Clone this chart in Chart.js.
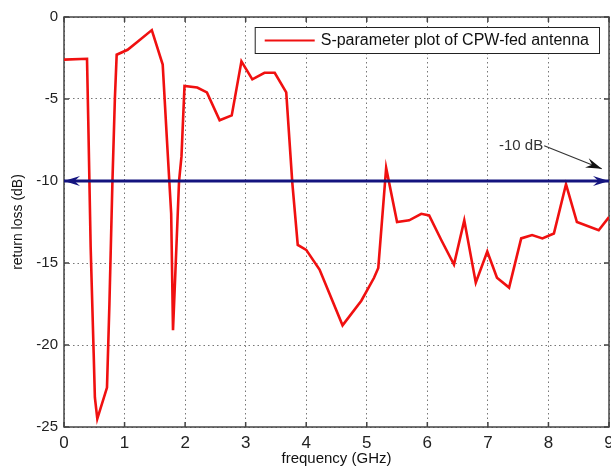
<!DOCTYPE html>
<html>
<head>
<meta charset="utf-8">
<script src="https://cdn.jsdelivr.net/npm/chart.js@4.4.0/dist/chart.umd.min.js"></script>
<style>
  html, body { margin: 0; padding: 0; background: #fff; }
</style>
</head>
<body>
<canvas id="chart" width="611" height="467"></canvas>
<script>
'use strict';

const freqGHz = [0, 0.38, 0.40, 0.44, 0.49, 0.51, 0.55, 0.71, 0.75, 0.80, 0.84, 0.87,
  1.05, 1.22, 1.45, 1.63, 1.70, 1.77, 1.80, 1.84, 1.90, 1.94, 1.99,
  2.20, 2.36, 2.57, 2.77, 2.93, 3.11, 3.31, 3.48, 3.67, 3.77, 3.86,
  4.00, 4.22, 4.60, 4.91, 5.12, 5.19, 5.32, 5.50, 5.70, 5.90, 6.03,
  6.23, 6.44, 6.61, 6.80, 6.99, 7.15, 7.35, 7.55, 7.73, 7.90, 8.09,
  8.29, 8.47, 8.83, 9.00];
const returnLossDb = [-2.6, -2.55, -6.2, -14, -20.5, -23.2, -24.5, -22.6, -17.5, -10, -5, -2.3,
  -2.0, -1.5, -0.8, -2.9, -7.5, -12, -19.1, -15.5, -10, -8.5, -4.2,
  -4.3, -4.6, -6.3, -6.0, -2.7, -3.8, -3.4, -3.4, -4.6, -10.1, -13.9,
  -14.2, -15.4, -18.8, -17.3, -15.9, -15.3, -9.2, -12.5, -12.4, -12.0, -12.1,
  -13.6, -15.1, -12.4, -16.2, -14.3, -15.9, -16.5, -13.5, -13.3, -13.5, -13.2,
  -10.2, -12.5, -13.0, -12.2];

// -10 dB reference level
const refFreq = [0, 9];
const refLevel = [-10, -10];
const refLabel = '-10 dB';
// where the "-10 dB" note sits and where its arrow points (data units)
const noteAt = [7.93, -7.85];
const noteTip = [8.88, -9.25];

const seriesLabel = 'S-parameter plot of CPW-fed antenna';
const xTitle = 'frequency (GHz)';
const yTitle = 'return loss (dB)';

const FONT = '"Liberation Sans", Arial, sans-serif';

function toPoints(xs, ys) {
  return xs.map(function(x, i) { return {x: x, y: ys[i]}; });
}

function arrowHead(ctx, x, y, ang, len, half, color) {
  ctx.save();
  ctx.translate(x, y);
  ctx.rotate(ang);
  ctx.fillStyle = color;
  ctx.beginPath();
  ctx.moveTo(0, 0);
  ctx.lineTo(-len, -half);
  ctx.lineTo(-len * 0.65, 0);
  ctx.lineTo(-len, half);
  ctx.closePath();
  ctx.fill();
  ctx.restore();
}

// matlab-ish frame: box + inward ticks
const framePlugin = {
  id: 'frame',
  beforeDatasetsDraw: function(chart) {
    const ctx = chart.ctx, a = chart.chartArea;
    const xs = chart.scales.x, ys = chart.scales.y;
    ctx.save();
    ctx.strokeStyle = '#444';
    ctx.lineWidth = 1.5;
    ctx.strokeRect(a.left, a.top, a.right - a.left, a.bottom - a.top);
    ctx.beginPath();
    xs.ticks.forEach(function(t) {
      const px = xs.getPixelForValue(t.value);
      ctx.moveTo(px, a.bottom); ctx.lineTo(px, a.bottom - 5);
      ctx.moveTo(px, a.top); ctx.lineTo(px, a.top + 5);
    });
    ys.ticks.forEach(function(t) {
      const py = ys.getPixelForValue(t.value);
      ctx.moveTo(a.left, py); ctx.lineTo(a.left + 5, py);
      ctx.moveTo(a.right, py); ctx.lineTo(a.right - 5, py);
    });
    ctx.stroke();
    ctx.restore();
  },
  afterDatasetsDraw: function(chart) {
    const ctx = chart.ctx, a = chart.chartArea;
    const xs = chart.scales.x, ys = chart.scales.y;

    // arrow heads on the -10 dB line
    const ly = ys.getPixelForValue(refLevel[0]);
    arrowHead(ctx, xs.getPixelForValue(refFreq[0]), ly, Math.PI, 16, 5, '#14147f');
    arrowHead(ctx, xs.getPixelForValue(refFreq[1]), ly, 0, 16, 5, '#14147f');

    // "-10 dB" note with black arrow
    const nx = xs.getPixelForValue(noteAt[0]), ny = ys.getPixelForValue(noteAt[1]);
    const tx = xs.getPixelForValue(noteTip[0]), ty = ys.getPixelForValue(noteTip[1]);
    ctx.save();
    ctx.font = '15px ' + FONT;
    ctx.fillStyle = '#333';
    ctx.textAlign = 'right';
    ctx.textBaseline = 'middle';
    ctx.fillText(refLabel, nx - 1, ny);
    ctx.strokeStyle = '#333';
    ctx.lineWidth = 1.2;
    ctx.beginPath();
    ctx.moveTo(nx, ny);
    ctx.lineTo(tx, ty);
    ctx.stroke();
    ctx.restore();
    arrowHead(ctx, tx, ty, Math.atan2(ty - ny, tx - nx), 16, 5, '#111');

    // legend box in the upper right of the axes
    const ds = chart.data.datasets[1];
    ctx.save();
    ctx.font = '16px ' + FONT;
    const tw = ctx.measureText(ds.label).width;
    const right = a.right - 10, top = a.top + 10, h = 26;
    const left = right - tw - 76;
    ctx.fillStyle = '#fff';
    ctx.fillRect(left, top, right - left, h);
    ctx.strokeStyle = '#222';
    ctx.lineWidth = 1;
    ctx.strokeRect(left + 0.5, top + 0.5, right - left, h);
    ctx.strokeStyle = ds.borderColor;
    ctx.lineWidth = 2;
    ctx.beginPath();
    ctx.moveTo(left + 10, top + h / 2 + 0.5);
    ctx.lineTo(left + 60, top + h / 2 + 0.5);
    ctx.stroke();
    ctx.fillStyle = '#111';
    ctx.textBaseline = 'middle';
    ctx.fillText(ds.label, left + 66, top + h / 2 + 1);
    ctx.restore();
  }
};

new Chart(document.getElementById('chart'), {
  type: 'line',
  data: {
    datasets: [{
      label: refLabel,
      data: toPoints(refFreq, refLevel),
      borderColor: '#14147f',
      borderWidth: 3,
      pointRadius: 0,
      fill: false
    }, {
      label: seriesLabel,
      data: toPoints(freqGHz, returnLossDb),
      borderColor: '#f01010',
      borderWidth: 2.6,
      pointRadius: 0,
      tension: 0,
      fill: false
    }]
  },
  options: {
    responsive: false,
    animation: false,
    events: [],
    layout: { padding: { left: 0, top: 17, right: 2, bottom: 0 } },
    plugins: {
      legend: { display: false },
      tooltip: { enabled: false }
    },
    scales: {
      x: {
        type: 'linear',
        min: 0,
        max: 9,
        // let the "9" label hang off the canvas like the original
        afterFit: function(s) { s.height = 40; s.paddingRight = 0; s.paddingLeft = 0; },
        ticks: { stepSize: 1, padding: 6, color: '#222', font: { family: FONT, size: 17 } },
        grid: { color: '#777', lineWidth: 1, drawTicks: false },
        border: { display: false, dash: [1.5, 3] },
        title: { display: true, text: xTitle, color: '#111',
          font: { family: FONT, size: 15 }, padding: { top: 0, bottom: -1 } }
      },
      y: {
        min: -25,
        max: 0,
        afterFit: function(s) { s.width = 64; s.paddingTop = 0; s.paddingBottom = 0; },
        ticks: { stepSize: 5, padding: 6, color: '#222', font: { family: FONT, size: 15 } },
        grid: { color: '#777', lineWidth: 1, drawTicks: false },
        border: { display: false, dash: [1.5, 3] },
        title: { display: true, text: yTitle, color: '#111',
          font: { family: FONT, size: 14 }, padding: { top: 10, bottom: 0 } }
      }
    }
  },
  plugins: [framePlugin]
});
</script>
</body>
</html>
